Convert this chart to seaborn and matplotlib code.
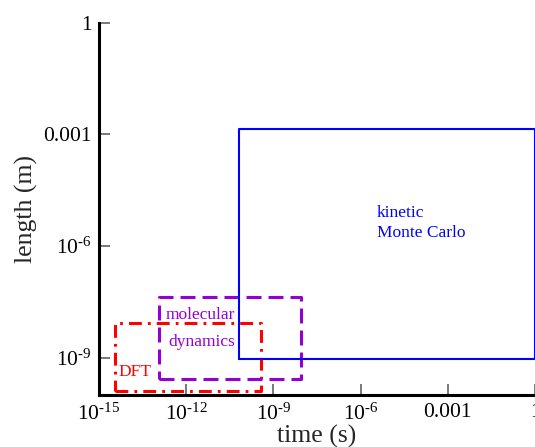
import numpy as np
import pandas as pd
import matplotlib
matplotlib.use("Agg")
import matplotlib.pyplot as plt
import seaborn as sns

# ---- data ----
methods = ["DFT", "molecular dynamics", "kinetic Monte Carlo"]
time_min = [10**-14.45, 10**-12.93, 10**-10.18]
time_max = [10**-9.43, 10**-8.05, 10**0.0]
length_min = [10**-9.9, 10**-9.58, 10**-9.02]
length_max = [10**-8.06, 10**-7.38, 10**-2.86]
colors = ["#ff0000", "#9400d3", "#0000ff"]

label_lines = [["DFT"], ["molecular", "dynamics"], ["kinetic", "Monte Carlo"]]
label_x = [[10**-14.34], [10**-12.72, 10**-12.61], [10**-5.45, 10**-5.45]]
label_y = [[10**-9.38], [10**-7.84, 10**-8.575], [10**-5.12, 10**-5.65]]

x_ticks = [1e-15, 1e-12, 1e-9, 1e-6, 1e-3, 1]
x_ticklabels = [r"$\mathregular{10^{\text{-}15}}$", r"$\mathregular{10^{\text{-}12}}$",
                r"$\mathregular{10^{\text{-}9}}$", r"$\mathregular{10^{\text{-}6}}$", "0.001", "1"]
y_ticks = [1e-9, 1e-6, 1e-3, 1]
y_ticklabels = [r"$\mathregular{10^{\text{-}9}}$", r"$\mathregular{10^{\text{-}6}}$", "0.001", "1"]

# ---- style ----
sns.set_style("ticks")
plt.rcParams["font.family"] = ["Liberation Serif", "DejaVu Serif"]
plt.rcParams["mathtext.fontset"] = "custom"
plt.rcParams["mathtext.rm"] = "Liberation Serif"
plt.rcParams["mathtext.it"] = "Liberation Serif:italic"
plt.rcParams["mathtext.bf"] = "Liberation Serif:bold"

W, H = 535, 447
fig = plt.figure(figsize=(W / 100, H / 100), dpi=100)
ax = fig.add_axes([99 / W, (H - 395) / H, 436 / W, (395 - 22.7) / H])

linestyles = [(0, (4.2, 2.0, 0.9, 2.0)), (0, (4.9, 2.3)), "-"]
linewidths = [2.2, 2.2, 1.5]

for i, m in enumerate(methods):
    xs = [time_min[i], time_max[i], time_max[i], time_min[i], time_min[i]]
    ys = [length_min[i], length_min[i], length_max[i], length_max[i], length_min[i]]
    df = pd.DataFrame({"time": xs, "length": ys, "order": range(5)})
    sns.lineplot(data=df, x="time", y="length", sort=False, estimator=None,
                 color=colors[i], linestyle=linestyles[i], linewidth=linewidths[i],
                 ax=ax, legend=False)
    for t, tx, ty in zip(label_lines[i], label_x[i], label_y[i]):
        ax.text(tx, ty, t, color=colors[i], fontsize=12.5, ha="left", va="center")

ax.set_xscale("log")
ax.set_yscale("log")
ax.set_xlim(1e-15, 1)
ax.set_ylim(1e-10, 1)

ax.set_xticks(x_ticks)
ax.set_xticklabels(x_ticklabels)
ax.set_yticks(y_ticks)
ax.set_yticklabels(y_ticklabels)
ax.minorticks_off()
ax.tick_params(axis="both", which="major", direction="in", length=8, width=1.1,
               color="#555555", labelsize=15.5, labelcolor="black")
ax.tick_params(axis="x", pad=6)
ax.tick_params(axis="y", pad=5)

ax.set_xlabel("time (s)", fontsize=18.5, labelpad=0)
ax.set_ylabel("length (m)", fontsize=18.5, labelpad=4)

for s in ["top", "right"]:
    ax.spines[s].set_visible(False)
for s in ["left", "bottom"]:
    ax.spines[s].set_linewidth(2.2)
    ax.spines[s].set_color("black")

fig.savefig("out.png", dpi=100)
